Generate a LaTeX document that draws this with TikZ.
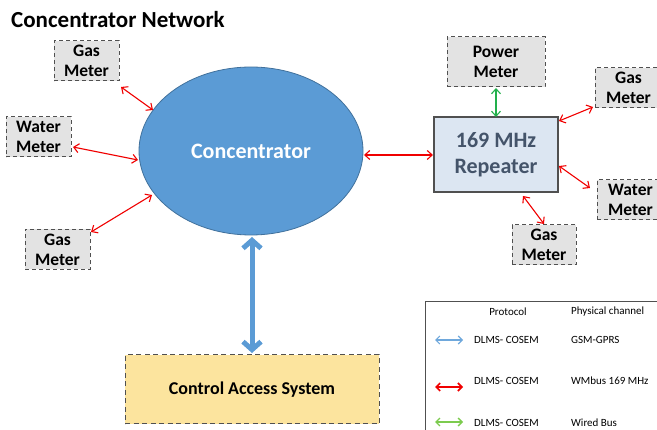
\documentclass[tikz,border=0pt]{standalone}
\usepackage{fontspec}
\setmainfont{Carlito}
\usetikzlibrary{arrows.meta,shapes.geometric}
\definecolor{boxgray}{HTML}{E3E3E3}
\definecolor{dashgray}{HTML}{505050}
\definecolor{concblue}{HTML}{5B9BD5}
\definecolor{concedge}{HTML}{41719C}
\definecolor{repfill}{HTML}{DCE6F2}
\definecolor{reptext}{HTML}{44546A}
\definecolor{casfill}{HTML}{FCE49E}
\definecolor{legblue}{HTML}{6FA8DC}
\definecolor{arrred}{HTML}{F00000}
\definecolor{arrgreen}{HTML}{22B04C}
\definecolor{leggreen}{HTML}{7CCB4E}
\tikzset{
  meter/.style={draw=dashgray, dash pattern=on 4pt off 3pt, line width=1pt, fill=boxgray,
    minimum width=65pt, minimum height=40pt, inner sep=0pt, align=center,
    font=\bfseries\fontsize{17.5}{20}\selectfont},
  redarr/.style={draw=arrred, line width=1.1pt, {Straight Barb[length=5pt,width=9pt]}-{Straight Barb[length=5pt,width=9pt]}},
  greenarr/.style={draw=arrgreen, line width=1.1pt, {Straight Barb[length=5pt,width=9pt]}-{Straight Barb[length=5pt,width=9pt]}},
  bluearr/.style={draw=concblue, line width=5pt, {Straight Barb[length=8pt,width=18pt]}-{Straight Barb[length=8pt,width=18pt]}},
  legtxt/.style={font=\fontsize{11}{13}\selectfont, inner sep=0pt, anchor=west},
}
\begin{document}
\begin{tikzpicture}[x=1pt,y=-1pt]
\useasboundingbox (0,0) rectangle (657,430);
\clip (0,0) rectangle (657,430);
% title
\node[anchor=west, inner sep=0pt, font=\bfseries\fontsize{23}{26}\selectfont] (title) at (11,20) {Concentrator Network};
% concentrator
\node[ellipse, draw=concedge, line width=0.8pt, fill=concblue, minimum width=224pt, minimum height=168pt,
  inner sep=0pt, text=white, font=\bfseries\fontsize{22}{26}\selectfont] (conc) at (251,151) {Concentrator};
% left meters
\node[meter] (gas1) at (86.5,61) {Gas\\Meter};
\node[meter] (water1) at (38.5,137) {Water\\Meter};
\node[meter] (gas2) at (57.5,249.5) {Gas\\Meter};
% repeater
\node[draw=dashgray, line width=1.3pt, fill=repfill, minimum width=124pt, minimum height=75pt, inner sep=0pt,
  align=center, text=reptext, font=\bfseries\fontsize{22}{26}\selectfont] (rep) at (496,154.5) {169 MHz\\Repeater};
% right meters
\node[meter, minimum width=98pt, minimum height=50pt] (power) at (496,62) {Power\\Meter};
\node[meter, minimum width=67pt] (gas3) at (628.5,88) {Gas\\Meter};
\node[meter, minimum width=67pt] (water2) at (630.5,200) {Water\\Meter};
\node[meter, minimum width=64pt] (gas4) at (544,245) {Gas\\Meter};
% CAS
\node[draw=dashgray, dash pattern=on 5pt off 3.5pt, line width=1pt, fill=casfill, minimum width=254pt,
  minimum height=69pt, inner sep=0pt, font=\bfseries\fontsize{18}{21}\selectfont] (cas) at (252,389.5) {Control Access System};
% connection points
\coordinate (a1) at (121,87); \coordinate (a2) at (153,110);
\coordinate (b1) at (73,147); \coordinate (b2) at (138,160);
\coordinate (c1) at (91,232); \coordinate (c2) at (152,195);
\coordinate (d1) at (364,155); \coordinate (d2) at (433,155);
\coordinate (e1) at (496,88); \coordinate (e2) at (496,117);
\coordinate (f1) at (559,121); \coordinate (f2) at (593,107);
\coordinate (g1) at (559,166); \coordinate (g2) at (590,188);
\coordinate (h1) at (523,196); \coordinate (h2) at (544,224);
\coordinate (k1) at (252,237); \coordinate (k2) at (252,353);
\draw[redarr] (a1) -- (a2);
\draw[redarr] (b1) -- (b2);
\draw[redarr] (c1) -- (c2);
\draw[redarr] (d1) -- (d2);
\draw[greenarr] (e1) -- (e2);
\draw[redarr] (f1) -- (f2);
\draw[redarr] (g1) -- (g2);
\draw[redarr] (h1) -- (h2);
\draw[bluearr] (k1) -- (k2);
% legend
\node[draw=dashgray, line width=0.7pt, minimum width=260pt, minimum height=160pt, inner sep=0pt, anchor=north west] (leg) at (425,301) {};
\node[font=\fontsize{11}{13}\selectfont, inner sep=0pt] (hp) at (508,312) {Protocol};
\node[legtxt] (hc) at (571,312) {Physical channel};
\coordinate (l1a) at (435,340); \coordinate (l1b) at (463,340);
\coordinate (l2a) at (435,387); \coordinate (l2b) at (463,387);
\coordinate (l3a) at (435,422); \coordinate (l3b) at (463,422);
\draw[draw=legblue, line width=1.1pt, {Straight Barb[length=4pt,width=8pt]}-{Straight Barb[length=4pt,width=8pt]}] (l1a) -- (l1b);
\draw[draw=arrred, line width=1.6pt, {Straight Barb[length=4pt,width=8pt]}-{Straight Barb[length=4pt,width=8pt]}] (l2a) -- (l2b);
\draw[draw=leggreen, line width=1.3pt, {Straight Barb[length=4pt,width=8pt]}-{Straight Barb[length=4pt,width=8pt]}] (l3a) -- (l3b);
\node[legtxt] (p1) at (474,340) {DLMS- COSEM};
\node[legtxt] (c1t) at (571,340) {GSM-GPRS};
\node[legtxt] (p2) at (474,381) {DLMS- COSEM};
\node[legtxt] (c2t) at (571,381) {WMbus 169 MHz};
\node[legtxt] (p3) at (474,423) {DLMS- COSEM};
\node[legtxt] (c3t) at (571,423) {Wired Bus};
\end{tikzpicture}
\end{document}
